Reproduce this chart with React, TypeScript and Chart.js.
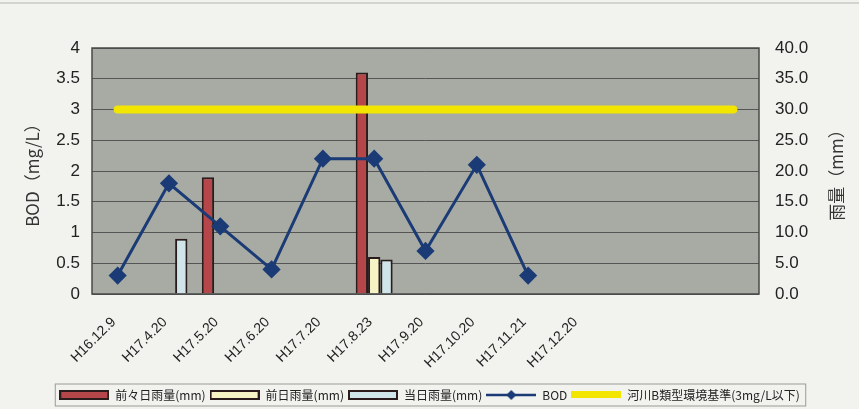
import React, { useEffect, useRef } from "react";
import { Chart, registerables } from "chart.js";

Chart.register(...registerables);

const categories = [
  "H16.12.9", "H17.4.20", "H17.5.20", "H17.6.20", "H17.7.20", "H17.8.23",
  "H17.9.20", "H17.10.20", "H17.11.21", "H17.12.20", "", "", "",
];
const rainTwoDaysBefore = [null, null, 19, null, null, 36, null, null, null, null, null, null, null];
const rainDayBefore = [null, null, null, null, null, 6, null, null, null, null, null, null, null];
const rainSameDay = [null, 9, null, null, null, 5.6, null, null, null, null, null, null, null];
const bodValues = [0.3, 1.8, 1.1, 0.4, 2.2, 2.2, 0.7, 2.1, 0.3, null, null, null, null];
const standardValues = [3, 3, 3, 3, 3, 3, 3, 3, 3, 3, 3, 3, 3];
const leftTicks = [0, 0.5, 1, 1.5, 2, 2.5, 3, 3.5, 4];
const rightTicks = [0, 5, 10, 15, 20, 25, 30, 35, 40];

const RED = "#b5474b";
const YELLOW_BAR = "#f6f4c4";
const BLUE_BAR = "#cfe5ea";
const BAR_BORDER = "#2a1c1c";
const NAVY = "#1b3b76";
const STD_YELLOW = "#f2e600";

function makeSwatch(draw: (ctx: CanvasRenderingContext2D) => void): HTMLCanvasElement {
  const c = document.createElement("canvas");
  c.width = 50;
  c.height = 12;
  const ctx = c.getContext("2d")!;
  draw(ctx);
  return c;
}

export default function App() {
  const ref = useRef<HTMLCanvasElement | null>(null);

  useEffect(() => {
    document.body.style.margin = "0";
    const canvas = ref.current!;

    const barSwatch = (fill: string) =>
      makeSwatch((ctx) => {
        ctx.fillStyle = fill;
        ctx.fillRect(1, 2, 48, 8);
        ctx.strokeStyle = BAR_BORDER;
        ctx.lineWidth = 2;
        ctx.strokeRect(1, 2, 48, 8);
      });
    const bodSwatch = makeSwatch((ctx) => {
      ctx.strokeStyle = NAVY;
      ctx.lineWidth = 2.5;
      ctx.beginPath();
      ctx.moveTo(0, 6);
      ctx.lineTo(50, 6);
      ctx.stroke();
      ctx.fillStyle = NAVY;
      ctx.beginPath();
      ctx.moveTo(25, 1);
      ctx.lineTo(30, 6);
      ctx.lineTo(25, 11);
      ctx.lineTo(20, 6);
      ctx.closePath();
      ctx.fill();
    });
    const stdSwatch = makeSwatch((ctx) => {
      ctx.fillStyle = STD_YELLOW;
      ctx.fillRect(0, 2, 50, 7);
    });
    const swatches = [barSwatch(RED), barSwatch(YELLOW_BAR), barSwatch(BLUE_BAR), bodSwatch, stdSwatch];

    const bgPlugin = {
      id: "bgPlugin",
      beforeDraw(chart: any) {
        const { ctx, chartArea, width, height } = chart;
        ctx.save();
        ctx.fillStyle = "#f2f2ef";
        ctx.fillRect(0, 0, width, height);
        ctx.strokeStyle = "#c9c9c5";
        ctx.lineWidth = 1.5;
        ctx.beginPath();
        ctx.moveTo(0, 3);
        ctx.lineTo(width, 3);
        ctx.stroke();
        ctx.fillStyle = "#a7aba3";
        ctx.fillRect(chartArea.left, chartArea.top, chartArea.right - chartArea.left, chartArea.bottom - chartArea.top);
        ctx.restore();
      },
      afterDraw(chart: any) {
        const { ctx, chartArea } = chart;
        ctx.save();
        ctx.strokeStyle = "#4a4a4a";
        ctx.lineWidth = 1.5;
        ctx.strokeRect(chartArea.left, chartArea.top, chartArea.right - chartArea.left, chartArea.bottom - chartArea.top);
        // right axis title (reads bottom to top)
        ctx.translate(837, (chartArea.top + chartArea.bottom) / 2);
        ctx.rotate(-Math.PI / 2);
        ctx.fillStyle = "#333";
        ctx.font = '17px "Noto Sans CJK JP"';
        ctx.textAlign = "center";
        ctx.textBaseline = "middle";
        ctx.fillText("雨量（mm）", 0, 0);
        ctx.restore();
        // legend frame
        const lg = chart.legend;
        if (lg && lg.legendHitBoxes && lg.legendHitBoxes.length) {
          const boxes = lg.legendHitBoxes;
          let minL = Infinity, maxR = -Infinity;
          boxes.forEach((b: any) => {
            minL = Math.min(minL, b.left);
            maxR = Math.max(maxR, b.left + b.width);
          });
          const first = boxes[0];
          ctx.save();
          ctx.strokeStyle = "#9a9a96";
          ctx.lineWidth = 1;
          ctx.strokeRect(minL - 4, first.top - 5, maxR - minL + 10, first.height + 10);
          ctx.restore();
        }
      },
    };

    const chart = new Chart(canvas, {
      type: "bar",
      data: {
        labels: categories,
        datasets: [
          {
            type: "bar",
            label: "前々日雨量(mm)",
            data: rainTwoDaysBefore,
            backgroundColor: RED,
            borderColor: BAR_BORDER,
            borderWidth: 2,
            yAxisID: "y1",
            order: 2,
            categoryPercentage: 0.72,
            barPercentage: 1.0,
          } as any,
          {
            type: "bar",
            label: "前日雨量(mm)",
            data: rainDayBefore,
            backgroundColor: YELLOW_BAR,
            borderColor: BAR_BORDER,
            borderWidth: 2,
            yAxisID: "y1",
            order: 2,
            categoryPercentage: 0.72,
            barPercentage: 1.0,
          },
          {
            type: "bar",
            label: "当日雨量(mm)",
            data: rainSameDay,
            backgroundColor: BLUE_BAR,
            borderColor: BAR_BORDER,
            borderWidth: 2,
            yAxisID: "y1",
            order: 2,
            categoryPercentage: 0.72,
            barPercentage: 1.0,
          },
          {
            type: "line",
            label: "BOD",
            data: bodValues,
            borderColor: NAVY,
            backgroundColor: NAVY,
            borderWidth: 3,
            pointStyle: "rectRot",
            pointRadius: 7,
            pointBackgroundColor: NAVY,
            pointBorderColor: NAVY,
            yAxisID: "y",
            order: 0,
            spanGaps: false,
          },
          {
            type: "line",
            label: "河川B類型環境基準(3mg/L以下)",
            data: standardValues,
            borderColor: STD_YELLOW,
            backgroundColor: STD_YELLOW,
            borderWidth: 8,
            pointRadius: 0,
            borderCapStyle: "round",
            yAxisID: "y",
            order: 1,
          },
        ],
      },
      options: {
        responsive: true,
        maintainAspectRatio: false,
        animation: false,
        layout: { padding: { top: 48, bottom: -2, left: 0, right: 0 } },
        plugins: {
          tooltip: { enabled: false },
          legend: {
            position: "bottom",
            labels: {
              usePointStyle: true,
              pointStyleWidth: 50,
              padding: 4,
              color: "#222",
              font: { family: '"Noto Sans CJK JP"', size: 12 },
              sort: (a: any, b: any) => a.datasetIndex - b.datasetIndex,
              generateLabels: (ch: any) => {
                const base = Chart.defaults.plugins.legend.labels.generateLabels(ch);
                return base.map((l: any) => ({ ...l, pointStyle: swatches[l.datasetIndex], rotation: 0 }));
              },
            },
          },
        },
        scales: {
          x: {
            grid: { display: false },
            border: { display: false },
            ticks: {
              autoSkip: false,
              maxRotation: 45,
              minRotation: 45,
              color: "#222",
              padding: 12,
              labelOffset: -4,
              font: { family: '"Liberation Sans"', size: 14 },
            },
            afterFit: (s: any) => {
              s.height = 91;
            },
          },
          y: {
            position: "left",
            min: 0,
            max: 4,
            afterBuildTicks: (s: any) => {
              s.ticks = leftTicks.map((v) => ({ value: v }));
            },
            ticks: {
              color: "#222",
              padding: 12,
              font: { family: '"Liberation Sans"', size: 17 },
              callback: (v: any) => String(v),
            },
            grid: { color: "#555", lineWidth: 1, drawTicks: false },
            border: { display: false },
            title: {
              display: true,
              text: "BOD（mg/L）",
              color: "#333",
              font: { family: '"Noto Sans CJK JP"', size: 17 },
              padding: { top: 22, bottom: 0 },
            },
            afterFit: (s: any) => {
              s.width = 92;
            },
          },
          y1: {
            position: "right",
            min: 0,
            max: 40,
            afterBuildTicks: (s: any) => {
              s.ticks = rightTicks.map((v) => ({ value: v }));
            },
            ticks: {
              color: "#222",
              padding: 16,
              font: { family: '"Liberation Sans"', size: 17 },
              callback: (v: any) => Number(v).toFixed(1),
            },
            grid: { drawOnChartArea: false, drawTicks: false },
            border: { display: false },
            afterFit: (s: any) => {
              s.width = 100;
            },
          },
        },
      },
      plugins: [bgPlugin],
    });

    return () => chart.destroy();
  }, []);

  return (
    <div style={{ width: 859, height: 409, position: "relative" }}>
      <canvas ref={ref} />
    </div>
  );
}
